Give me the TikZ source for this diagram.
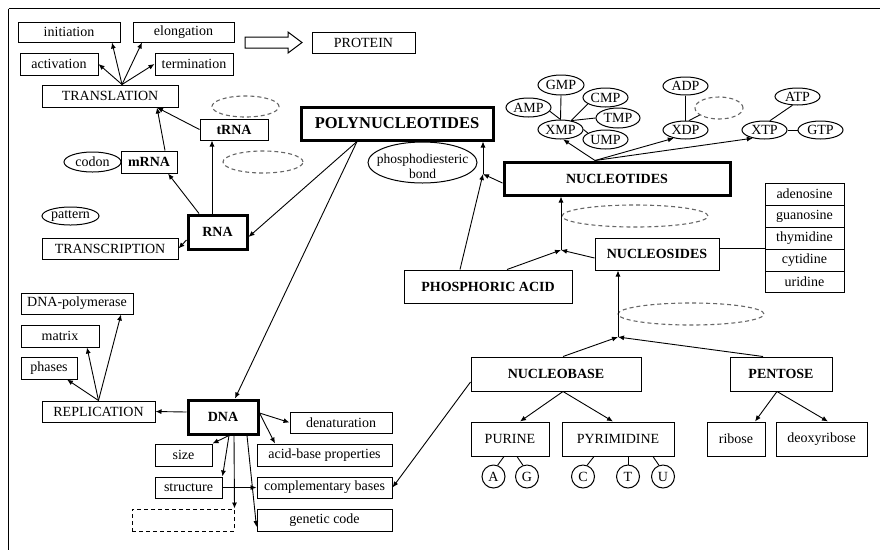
\documentclass[tikz,border=0pt]{standalone}
\usepackage{fontspec}
\setmainfont{Liberation Serif}
\usetikzlibrary{arrows.meta,shapes.geometric,calc}
\newcommand\fsz[1]{\fontsize{#1pt}{#1pt}\selectfont}
\newcommand\zb[1]{\makebox[0pt]{#1}}
\begin{document}
\begin{tikzpicture}[x=1pt,y=-1pt,
 wh/.style 2 args={minimum width=#1pt,minimum height=#2pt},
 bx/.style={draw,line width=1pt,inner sep=0pt,font=\fsz{14}},
 bbx/.style={bx,font=\fsz{14}\bfseries},
 tbx/.style={draw,line width=3pt,inner sep=0pt,font=\fsz{14}\bfseries},
 ell/.style={draw,ellipse,line width=1pt,inner sep=0pt,font=\fsz{14}},
 dell/.style={draw=black!60,ellipse,line width=1.1pt,dash pattern=on 4pt off 3pt,inner sep=0pt},
 circ/.style={draw,circle,line width=1pt,inner sep=0pt,minimum size=23pt,font=\fsz{14}},
 arr/.style={line width=0.9pt,-{Latex[length=6pt,width=5pt]}},
 ln/.style={line width=0.9pt},
]
\useasboundingbox (0,0) rectangle (880,550);
% frame
\draw[line width=1pt] (8.5,8.5) -- (880,8.5);
\draw[line width=1pt] (8.5,8.5) -- (8.5,550);

% left top
\node[bx,wh={102}{20}] (init) at (69,32) {initiation};
\node[bx,wh={101}{20}] (elong) at (183.5,32) {elongation};
\node[bx,wh={78}{22}] (activ) at (59,64) {activation};
\node[bx,wh={78}{22}] (termin) at (194,64) {termination};
\node[bx,wh={103}{21}] (protein) at (363.5,42.5) {PROTEIN};
\node[bx,wh={136}{22}] (transl) at (110,96) {TRANSLATION};
\node[bbx,wh={68}{21}] (trna) at (234,129.5) {tRNA};
\node[bbx,wh={56}{22}] (mrna) at (149,162) {mRNA};
\node[ell,wh={57}{20}] (codon) at (92.5,162) {\zb{codon}};
\node[ell,wh={57}{18}] (pattern) at (70.5,216) {\zb{pattern}};
\node[bx,wh={136}{21}] (transcr) at (110,248.5) {TRANSCRIPTION};
\node[tbx,wh={59}{34}] (rna) at (217.5,232) {RNA};
\node[tbx,wh={192}{33},font=\fsz{16.5}\bfseries] (poly) at (397,123.5) {POLYNUCLEOTIDES};
\node[dell,wh={67}{21}] (d1) at (245.5,106.5) {};
\node[dell,wh={80}{22}] (d2) at (263,162) {};

% hollow arrow
\draw[line width=1pt] (245,37) -- (288,37) -- (288,32) -- (302,42.5) -- (288,53) -- (288,48) -- (245,48) -- cycle;

% replication / DNA
\node[bx,wh={112}{21}] (dnapol) at (77,303.5) {DNA-polymerase};
\node[bx,wh={78}{22}] (matrix) at (60,336) {matrix};
\node[bx,wh={56}{22}] (phases) at (49,368) {phases};
\node[bx,wh={113}{21}] (repl) at (98.5,411.5) {REPLICATION};
\node[tbx,wh={70}{34}] (dna) at (223,417) {DNA};
\node[bx,wh={102}{21}] (denat) at (341,422.5) {denaturation};
\node[bx,wh={135}{22}] (acid) at (324.5,455) {acid-base properties};
\node[bx,wh={57}{22}] (size) at (183.5,455) {size};
\node[bx,wh={67}{21}] (struct) at (188.5,487.5) {structure};
\node[bx,wh={135}{21}] (compl) at (324.5,487.5) {complementary bases};
\node[bx,dash pattern=on 4pt off 3pt,wh={102}{22}] (dbox) at (183,520) {};
\node[bx,wh={135}{22}] (genetic) at (324.5,520) {genetic code};

% right part
\node[ell,wh={109}{41}] (bond) at (422.5,162.5) {};
\node[align=center,inner sep=0pt,font=\fontsize{13.5pt}{15.5pt}\selectfont] (bondtxt) at (422.5,166.5) {phosphodiesteric\\bond};
\node[tbx,wh={226}{33}] (nucleotides) at (617,178.5) {NUCLEOTIDES};
\node[bbx,wh={168}{33}] (phos) at (488,286.5) {PHOSPHORIC ACID};
\node[bbx,wh={124}{32}] (nucleosides) at (657,254) {NUCLEOSIDES};
\node[bbx,wh={170}{34}] (nucleobase) at (556,374) {NUCLEOBASE};
\node[bbx,wh={102}{34}] (pentose) at (781,374) {PENTOSE};
\node[bx,wh={78}{34}] (purine) at (510,439) {PURINE};
\node[bx,wh={112}{34}] (pyrim) at (618,439) {PYRIMIDINE};
\node[bx,wh={58}{34}] (ribose) at (736,439) {ribose};
\node[bx,wh={91}{34}] (deoxy) at (821.5,439) {deoxyribose};
\node[circ] (A) at (493.5,476.5) {A};
\node[circ] (G) at (527,476.5) {G};
\node[circ] (C) at (583,476.5) {C};
\node[circ] (T) at (628,476.5) {T};
\node[circ] (U) at (663,476.5) {U};

\node[bx,wh={79}{22}] (t1) at (804.5,194) {adenosine};
\node[bx,wh={79}{22}] (t2) at (804.5,216) {guanosine};
\node[bx,wh={79}{22}] (t3) at (804.5,238) {thymidine};
\node[bx,wh={79}{22}] (t4) at (804.5,260) {cytidine};
\node[bx,wh={79}{21}] (t5) at (804.5,281.5) {uridine};

\node[dell,wh={48}{22}] (d3) at (719,108) {};
\node[dell,wh={146}{22}] (d4) at (635,216) {};
\node[dell,wh={146}{22}] (d5) at (691,314) {};

\node[ell,wh={46}{20}] (gmp) at (561,85) {\zb{GMP}};
\node[ell,wh={45}{19}] (amp) at (528.5,107.5) {\zb{AMP}};
\node[ell,wh={45}{19}] (cmp) at (605.5,97.5) {\zb{CMP}};
\node[ell,wh={44}{20}] (tmp) at (618,118) {\zb{TMP}};
\node[ell,wh={45}{19}] (xmp) at (560.5,129.5) {\zb{XMP}};
\node[ell,wh={45}{19}] (ump) at (605.5,139.5) {\zb{UMP}};
\node[ell,wh={45}{18}] (adp) at (685.5,86) {\zb{ADP}};
\node[ell,wh={45}{18}] (xdp) at (685.5,130) {\zb{XDP}};
\node[ell,wh={45}{18}] (xtp) at (764.5,130) {\zb{XTP}};
\node[ell,wh={45}{17}] (atp) at (797.5,96.5) {\zb{ATP}};
\node[ell,wh={45}{18}] (gtp) at (820.5,130) {\zb{GTP}};

\coordinate (j1) at (483,174);
\coordinate (j2) at (561,250);
\coordinate (j3) at (618,337);

% connectors: translation
\draw[arr] ([xshift=12pt]transl.north) -- ([xshift=43pt]init.south);
\draw[arr] ([xshift=12pt]transl.north) -- ([xshift=-41.5pt]elong.south);
\draw[arr] ([xshift=12pt]transl.north) -- (activ.east);
\draw[arr] ([xshift=12pt]transl.north) -- (termin.west);
\draw[arr] (trna.west) -- ([xshift=47pt]transl.south);
\draw[arr] ([xshift=16pt]mrna.north) -- ([xshift=47pt]transl.south);
\draw[arr] ([xshift=-5.5pt]rna.north) -- ([xshift=-22pt]trna.south);
\draw[arr] ([xshift=-18.5pt]rna.north) -- ([xshift=19pt]mrna.south);
\draw[arr] ([yshift=-8pt]rna.west) -- (transcr.east);
\draw[arr] ([xshift=-40pt]poly.south) -- ([yshift=-5pt]rna.east);
\draw[arr] ([xshift=-40pt]poly.south) -- ([xshift=12pt]dna.north);

% replication
\draw[arr] ([yshift=5pt]dna.west) -- (repl.east);
\draw[arr] (repl.north) -- ([xshift=18pt]phases.south);
\draw[arr] (repl.north) -- ([xshift=27pt]matrix.south);
\draw[arr] (repl.north) -- ([xshift=44pt]dnapol.south);

% DNA
\draw[arr] ([yshift=4pt]dna.east) -- (denat.west);
\draw[arr] ([yshift=4pt]dna.east) -- ([xshift=-49.5pt]acid.north);
\draw[arr] ([xshift=6pt]dna.south) -- (size.north east);
\draw[arr] ([xshift=6pt]dna.south) -- (struct.north east);
\draw[arr] ([xshift=11pt]dna.south) -- (dbox.north east);
\draw[arr] ([xshift=24pt]dna.south) -- ([yshift=-7pt]genetic.west);
\draw[arr] (struct.east) -- (compl.west);
\draw[arr] ([yshift=-8pt]nucleobase.west) -- (compl.east);

% right side
\draw[arr] ([yshift=-4.5pt]nucleotides.west) -- (j1);
\draw[arr] ([xshift=-28pt]phos.north) -- (j1);
\draw[arr] (j1) -- (j1 |- poly.south);
\draw[arr] ([xshift=19pt]phos.north) -- (j2);
\draw[arr] ([yshift=-4pt]nucleosides.west) -- (j2);
\draw[arr] (j2) -- (j2 |- nucleotides.south);
\draw[arr] ([xshift=7pt]nucleobase.north) -- (j3);
\draw[arr] ([xshift=-18pt]pentose.north) -- (j3);
\draw[arr] (j3) -- (j3 |- nucleosides.south);
\draw[ln] ([yshift=6pt]nucleosides.east) -- ([yshift=6pt]nucleosides.east -| t3.west);

\draw[arr] ([xshift=7pt]nucleobase.south) -- ([xshift=10pt]purine.north);
\draw[arr] ([xshift=7pt]nucleobase.south) -- ([xshift=-5pt]pyrim.north);
\draw[arr] ([xshift=-4pt]pentose.south) -- ([xshift=19pt]ribose.north);
\draw[arr] ([xshift=-4pt]pentose.south) -- ([xshift=6.5pt]deoxy.north);
\draw[ln] ([xshift=-6pt]purine.south) -- (A.70);
\draw[ln] ([xshift=7pt]purine.south) -- (G.110);
\draw[ln] ([xshift=-24pt]pyrim.south) -- (C.70);
\draw[ln] (T.north) -- (T.north |- pyrim.south);
\draw[ln] ([xshift=35pt]pyrim.south) -- (U.110);

% nucleotide cluster
\draw[arr] ([xshift=-22pt]nucleotides.north) -- (xmp.-75);
\draw[arr] ([xshift=-22pt]nucleotides.north) -- (xdp.-145);
\draw[arr] ([xshift=-22pt]nucleotides.north) -- (xtp.-145);
\draw[ln] (gmp.south) -- (xmp.north);
\draw[ln] (amp.-10) -- (xmp.north);
\draw[ln] (cmp.200) -- (xmp.40);
\draw[ln] (xmp.40) -- (tmp.west);
\draw[ln] (xmp.east) -- (ump.160);
\draw[ln] (adp.south) -- (xdp.north);
\draw[ln] (xdp.70) -- (d3.200);
\draw[ln] (atp.-120) -- (xtp.60);
\draw[ln] (xtp.east) -- (gtp.west);
\end{tikzpicture}
\end{document}
